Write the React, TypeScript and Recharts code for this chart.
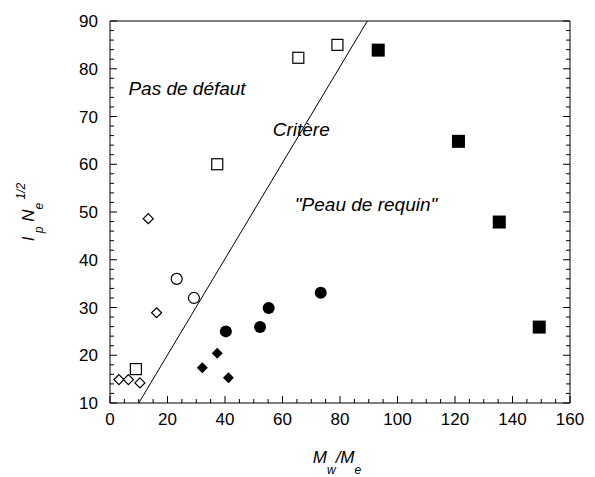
import {
  ScatterChart,
  Scatter,
  XAxis,
  YAxis,
  ReferenceLine,
  ReferenceDot,
} from "recharts";

const openDiamondX = [3.1, 6.4, 10.4, 16.2, 13.3];
const openDiamondY = [14.9, 14.9, 14.2, 28.9, 48.6];
const openSquareX = [9.0, 37.3, 65.5, 79.1];
const openSquareY = [17.1, 60.0, 82.3, 85.0];
const openCircleX = [23.2, 29.2];
const openCircleY = [36.0, 32.0];
const filledDiamondX = [32.1, 37.3, 41.2];
const filledDiamondY = [17.4, 20.4, 15.3];
const filledCircleX = [40.3, 52.2, 55.2, 73.3];
const filledCircleY = [25.0, 25.9, 29.9, 33.1];
const filledSquareX = [93.3, 121.2, 135.4, 149.3];
const filledSquareY = [83.9, 64.8, 47.9, 25.9];

// critere line end points
const critereX = [10, 89.5];
const critereY = [10, 90];

const noteText = ["Pas de défaut", "Critère", "\"Peau de requin\""];
const noteX = [6.4, 56.6, 64.3];
const noteY = [74.4, 66.0, 50.3];

const xMajorTicks = [0, 20, 40, 60, 80, 100, 120, 140, 160];
const yMajorTicks = [10, 20, 30, 40, 50, 60, 70, 80, 90];
const xMinorStep = 5;
const yMinorStep = 2;

const xTicks = Array.from({ length: 160 / xMinorStep + 1 }, (_, i) => i * xMinorStep);
const yTicks = Array.from({ length: 80 / yMinorStep + 1 }, (_, i) => 10 + i * yMinorStep);

const toPoints = (xs: number[], ys: number[]) => xs.map((x, i) => ({ x, y: ys[i] }));

const FONT = "'Liberation Sans', Arial, sans-serif";
const MAJOR = 7;
const MINOR = 4;

const BottomTick = ({ x, y, payload }: any) => {
  const major = xMajorTicks.includes(payload.value);
  return (
    <g>
      <line x1={x} x2={x} y1={y} y2={y - (major ? MAJOR : MINOR)} stroke="#000" />
      {major && (
        <text x={x} y={y + 22} textAnchor="middle" fontSize={17} fontFamily={FONT} fill="#000">
          {payload.value}
        </text>
      )}
    </g>
  );
};

const TopTick = ({ x, y, payload }: any) => {
  const major = xMajorTicks.includes(payload.value);
  return <line x1={x} x2={x} y1={y} y2={y + (major ? MAJOR : MINOR)} stroke="#000" />;
};

const LeftTick = ({ x, y, payload }: any) => {
  const major = yMajorTicks.includes(payload.value);
  return (
    <g>
      <line x1={x} x2={x + (major ? MAJOR : MINOR)} y1={y} y2={y} stroke="#000" />
      {major && (
        <text x={x - 12} y={y + 6} textAnchor="end" fontSize={17} fontFamily={FONT} fill="#000">
          {payload.value}
        </text>
      )}
    </g>
  );
};

const RightTick = ({ x, y, payload }: any) => {
  const major = yMajorTicks.includes(payload.value);
  return <line x1={x} x2={x - (major ? MAJOR : MINOR)} y1={y} y2={y} stroke="#000" />;
};

const XTitle = ({ viewBox }: any) => {
  const cx = viewBox.x + viewBox.width / 2 - 3;
  const y = viewBox.y + 60;
  return (
    <text x={cx} y={y} textAnchor="middle" fontFamily={FONT} fontStyle="italic" fill="#000">
      <tspan fontSize={17}>M</tspan>
      <tspan fontSize={12} dy={11}>w</tspan>
      <tspan fontSize={17} dy={-11}>/M</tspan>
      <tspan fontSize={12} dy={11}>e</tspan>
    </text>
  );
};

const YTitle = ({ viewBox }: any) => {
  const cy = viewBox.y + viewBox.height / 2;
  const x = 26;
  return (
    <text
      x={x}
      y={cy}
      textAnchor="middle"
      fontFamily={FONT}
      fontStyle="italic"
      fill="#000"
      transform={`rotate(-90, ${x}, ${cy})`}
    >
      <tspan fontSize={17}>I</tspan>
      <tspan fontSize={12} dy={9}> p</tspan>
      <tspan fontSize={17} dy={-9}> N</tspan>
      <tspan fontSize={12} dy={9}>e</tspan>
      <tspan fontSize={12} dy={-18}> 1/2</tspan>
    </text>
  );
};

const openDiamond = ({ cx, cy }: any) => (
  <polygon
    points={`${cx},${cy - 5} ${cx + 5},${cy} ${cx},${cy + 5} ${cx - 5},${cy}`}
    fill="#fff"
    stroke="#000"
    strokeWidth={1.2}
  />
);
const filledDiamond = ({ cx, cy }: any) => (
  <polygon
    points={`${cx},${cy - 5.5} ${cx + 5.5},${cy} ${cx},${cy + 5.5} ${cx - 5.5},${cy}`}
    fill="#000"
  />
);
const openSquare = ({ cx, cy }: any) => (
  <rect x={cx - 5.5} y={cy - 5.5} width={11} height={11} fill="#fff" stroke="#000" strokeWidth={1.2} />
);
const filledSquare = ({ cx, cy }: any) => (
  <rect x={cx - 6.5} y={cy - 6.5} width={13} height={13} fill="#000" />
);
const openCircle = ({ cx, cy }: any) => (
  <circle cx={cx} cy={cy} r={5.5} fill="#fff" stroke="#000" strokeWidth={1.2} />
);
const filledCircle = ({ cx, cy }: any) => <circle cx={cx} cy={cy} r={6} fill="#000" />;

const Note = (text: string) => ({ viewBox }: any) => (
  <text
    x={viewBox.x}
    y={viewBox.y}
    fontSize={19}
    fontFamily={FONT}
    fontStyle="italic"
    fill="#000"
  >
    {text}
  </text>
);

export default function App() {
  return (
    <ScatterChart width={587} height={469} margin={{ top: 0, right: 0, bottom: 0, left: 0 }}>
      <XAxis
        xAxisId="b"
        type="number"
        dataKey="x"
        domain={[0, 160]}
        allowDataOverflow
        ticks={xTicks}
        interval={0}
        tick={<BottomTick />}
        tickLine={false}
        tickSize={0}
        tickMargin={0}
        height={74}
        stroke="#000"
        label={XTitle}
      />
      <XAxis
        xAxisId="t"
        orientation="top"
        type="number"
        domain={[0, 160]}
        allowDataOverflow
        ticks={xTicks}
        interval={0}
        tick={<TopTick />}
        tickLine={false}
        tickSize={0}
        tickMargin={0}
        height={13}
        stroke="#000"
      />
      <YAxis
        yAxisId="l"
        type="number"
        dataKey="y"
        domain={[10, 90]}
        allowDataOverflow
        ticks={yTicks}
        interval={0}
        tick={<LeftTick />}
        tickLine={false}
        tickSize={0}
        tickMargin={0}
        width={102}
        stroke="#000"
        label={YTitle}
      />
      <YAxis
        yAxisId="r"
        orientation="right"
        type="number"
        domain={[10, 90]}
        allowDataOverflow
        ticks={yTicks}
        interval={0}
        tick={<RightTick />}
        tickLine={false}
        tickSize={0}
        tickMargin={0}
        width={25}
        stroke="#000"
      />
      <ReferenceLine
        xAxisId="b"
        yAxisId="l"
        segment={[
          { x: critereX[0], y: critereY[0] },
          { x: critereX[1], y: critereY[1] },
        ]}
        stroke="#000"
        strokeWidth={1}
      />
      {noteText.map((t, i) => (
        <ReferenceDot
          key={t}
          xAxisId="b"
          yAxisId="l"
          x={noteX[i]}
          y={noteY[i]}
          r={0}
          fill="none"
          stroke="none"
          label={Note(t)}
        />
      ))}
      <Scatter xAxisId="b" yAxisId="l" data={toPoints(openDiamondX, openDiamondY)} shape={openDiamond} isAnimationActive={false} />
      <Scatter xAxisId="b" yAxisId="l" data={toPoints(openSquareX, openSquareY)} shape={openSquare} isAnimationActive={false} />
      <Scatter xAxisId="b" yAxisId="l" data={toPoints(openCircleX, openCircleY)} shape={openCircle} isAnimationActive={false} />
      <Scatter xAxisId="b" yAxisId="l" data={toPoints(filledDiamondX, filledDiamondY)} shape={filledDiamond} isAnimationActive={false} />
      <Scatter xAxisId="b" yAxisId="l" data={toPoints(filledCircleX, filledCircleY)} shape={filledCircle} isAnimationActive={false} />
      <Scatter xAxisId="b" yAxisId="l" data={toPoints(filledSquareX, filledSquareY)} shape={filledSquare} isAnimationActive={false} />
    </ScatterChart>
  );
}
